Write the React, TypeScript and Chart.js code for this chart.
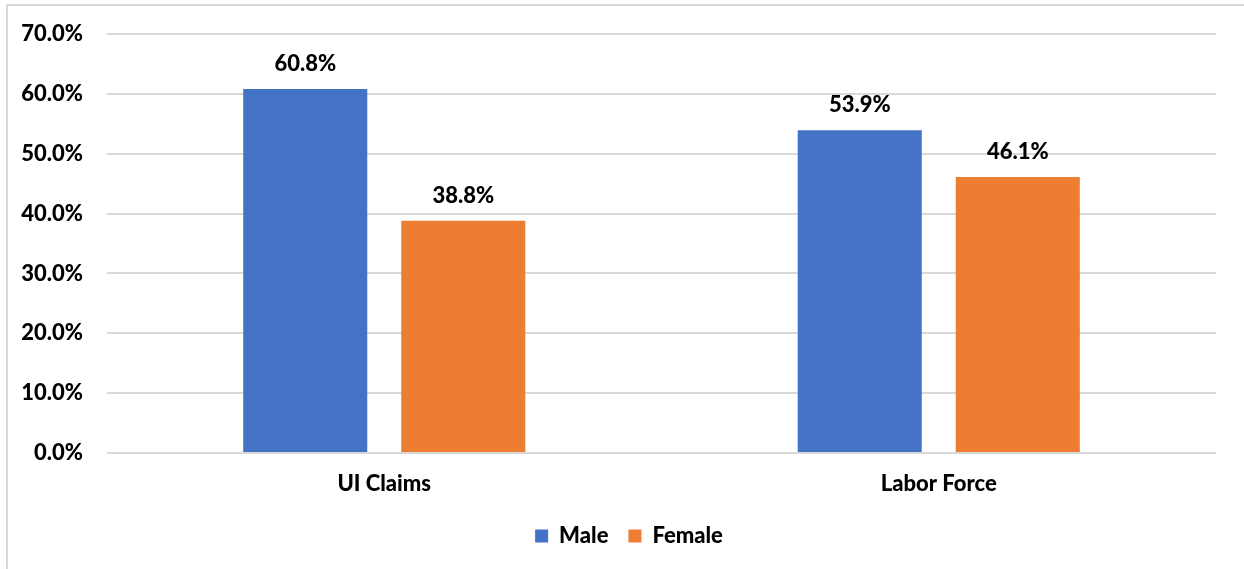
import React, { useEffect, useRef } from "react";
import { Chart, registerables } from "chart.js";

Chart.register(...registerables);

const categories = ["UI Claims", "Labor Force"];
const maleValues = [60.8, 53.9];
const femaleValues = [38.8, 46.1];
const seriesNames = ["Male", "Female"];
const yTicks = [0, 10, 20, 30, 40, 50, 60, 70];

const FONT = "Lato, 'Open Sans', sans-serif";
const WEIGHT = 900;
const SIZE = 22;

const dataLabels = {
  id: "dataLabels",
  afterDatasetsDraw(chart: any) {
    const ctx = chart.ctx;
    ctx.save();
    ctx.font = `${WEIGHT} ${SIZE}px ${FONT}`;
    ctx.fillStyle = "#000000";
    ctx.textAlign = "center";
    ctx.textBaseline = "alphabetic";
    chart.data.datasets.forEach((ds: any, di: number) => {
      const meta = chart.getDatasetMeta(di);
      meta.data.forEach((bar: any, i: number) => {
        const v = ds.data[i];
        ctx.fillText(v.toFixed(1) + "%", bar.x, bar.y - 18);
      });
    });
    ctx.restore();
  },
};

const legendShift = {
  id: "legendShift",
  afterLayout(chart: any) {
    const lg = chart.legend;
    if (lg) {
      lg.left += 16;
      lg.right += 16;
    }
  },
};

export default function App() {
  const ref = useRef<HTMLCanvasElement | null>(null);

  useEffect(() => {
    document.body.style.margin = "0";
    const canvas = ref.current;
    if (!canvas) return;
    const chart = new Chart(canvas, {
      type: "bar",
      data: {
        labels: categories,
        datasets: [
          {
            label: seriesNames[0],
            data: maleValues,
            backgroundColor: "#4472C4",
            categoryPercentage: 0.57,
            barPercentage: 0.785,
          },
          {
            label: seriesNames[1],
            data: femaleValues,
            backgroundColor: "#ED7D31",
            categoryPercentage: 0.57,
            barPercentage: 0.785,
          },
        ],
      },
      options: {
        animation: false,
        responsive: false,
        maintainAspectRatio: false,
        devicePixelRatio: 1,
        layout: { padding: { left: 10, right: 28, top: 34, bottom: 12 } },
        plugins: {
          tooltip: { enabled: false },
          legend: {
            position: "bottom",
            labels: {
              font: { family: FONT, size: SIZE, weight: WEIGHT as any },
              color: "#000000",
              boxWidth: 13,
              boxHeight: 13,
              padding: 20,
            },
          },
        },
        scales: {
          x: {
            grid: { display: false, drawTicks: false },
            border: { display: false },
            ticks: {
              font: { family: FONT, size: SIZE, weight: WEIGHT as any },
              color: "#000000",
              padding: 18,
            },
            afterFit: (s: any) => {
              s.height = 52;
              s.paddingLeft = 0;
              s.paddingRight = 0;
            },
          },
          y: {
            min: 0,
            max: 70,
            afterBuildTicks: (s: any) => {
              s.ticks = yTicks.map((v) => ({ value: v }));
            },
            grid: { color: "#d9d9d9", lineWidth: 2, drawTicks: false },
            border: { display: false },
            ticks: {
              font: { family: FONT, size: SIZE, weight: WEIGHT as any },
              color: "#000000",
              padding: 24,
              callback: (v: any) => Number(v).toFixed(1) + "%",
            },
            afterFit: (s: any) => {
              s.width = 97;
              s.paddingTop = 0;
              s.paddingBottom = 0;
            },
          },
        },
      },
      plugins: [dataLabels, legendShift],
    });
    return () => chart.destroy();
  }, []);

  return (
    <div style={{ position: "relative", width: 1244, height: 569, background: "#fff", overflow: "hidden" }}>
      <div
        style={{
          position: "absolute",
          left: 6,
          top: 4,
          width: 1300,
          height: 600,
          borderLeft: "2px solid #d9d9d9",
          borderTop: "2px solid #d9d9d9",
        }}
      />
      <canvas ref={ref} width={1244} height={569} style={{ position: "absolute", left: 0, top: 0, width: 1244, height: 569 }} />
    </div>
  );
}
